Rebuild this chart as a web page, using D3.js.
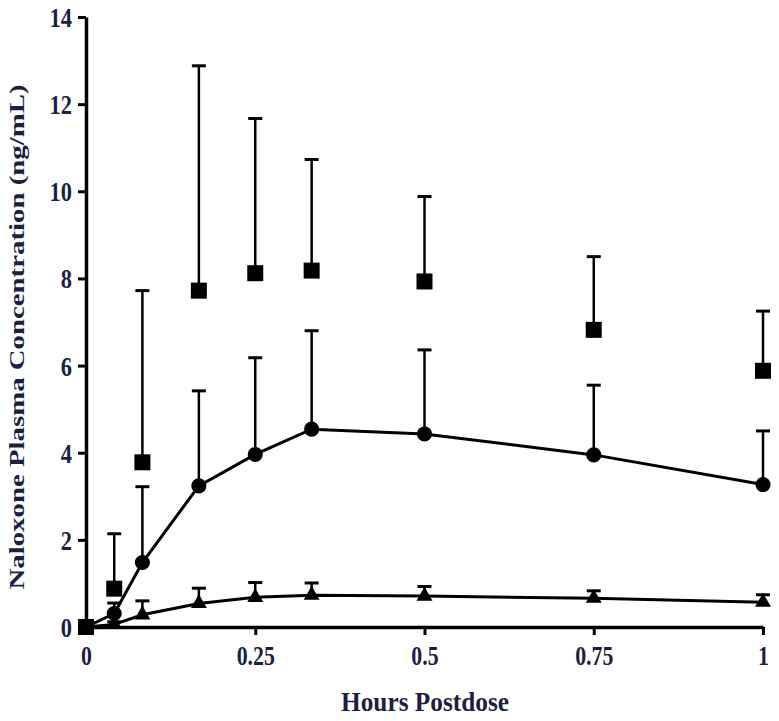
<!DOCTYPE html>
<html>
<head>
<meta charset="utf-8">
<script src="https://cdn.jsdelivr.net/npm/d3@7"></script>
<style>
  html, body { margin: 0; padding: 0; background: #fff; }
  svg { display: block; }
  text { font-family: "Liberation Serif", "Times New Roman", serif; font-weight: bold; fill: #1c1f42; }
</style>
</head>
<body>
<svg id="chart" width="779" height="721"></svg>
<script>
// Sampling times (hours postdose)
const hours = [0, 0.0417, 0.0833, 0.1667, 0.25, 0.3333, 0.5, 0.75, 1];

// Mean naloxone plasma concentrations (ng/mL) and mean + SD for each dose group
const squareMean = [0, 0.88, 3.78, 7.72, 8.12, 8.18, 7.93, 6.82, 5.88];
const squareUpper = [0, 2.14, 7.72, 12.88, 11.67, 10.73, 9.88, 8.5, 7.25];

const circleMean = [0, 0.31, 1.48, 3.24, 3.96, 4.54, 4.43, 3.95, 3.27];
const circleUpper = [0, 0.55, 3.22, 5.42, 6.18, 6.8, 6.36, 5.55, 4.5];

const triangleMean = [0, 0.06, 0.28, 0.54, 0.68, 0.73, 0.71, 0.66, 0.57];
const triangleUpper = [0, 0.12, 0.6, 0.89, 1.02, 1.01, 0.93, 0.83, 0.74];

const xTicks = [0, 0.25, 0.5, 0.75, 1];
const xTickLabels = ["0", "0.25", "0.5", "0.75", "1"];
const yTicks = [0, 2, 4, 6, 8, 10, 12, 14];

const svg = d3.select("#chart");
const x = d3.scaleLinear().domain([0, 1]).range([86, 763]);
const y = d3.scaleLinear().domain([0, 14]).range([627, 17]);

// Squeeze text horizontally along its baseline
function squeeze(sel, factor) {
  sel.each(function () {
    const len = this.getComputedTextLength();
    d3.select(this).attr("textLength", len * factor).attr("lengthAdjust", "spacingAndGlyphs");
  });
}

// Axes
const yAxis = svg.append("g")
  .attr("transform", `translate(${x(0)},0)`)
  .call(d3.axisLeft(y).tickValues(yTicks).tickSize(8).tickSizeOuter(0).tickPadding(6).tickFormat(d3.format("d")));
const xAxis = svg.append("g")
  .attr("transform", `translate(0,${y(0)})`)
  .call(d3.axisBottom(x).tickValues(xTicks).tickSize(8).tickSizeOuter(0).tickPadding(11)
    .tickFormat((d, i) => xTickLabels[i]));

[yAxis, xAxis].forEach(g => {
  g.attr("font-size", null).attr("font-family", null);
  g.select(".domain").attr("stroke", "#000").attr("stroke-width", 3.5);
  g.selectAll(".tick line").attr("stroke", "#000").attr("stroke-width", 3);
  g.selectAll(".tick text")
    .attr("font-family", '"Liberation Serif", serif')
    .attr("font-weight", "bold")
    .attr("font-size", 28)
    .attr("fill", "#1c1f42");
});
yAxis.selectAll(".tick text").attr("dy", "0.34em").call(squeeze, 0.8);
xAxis.selectAll(".tick text").attr("dy", "0.68em").call(squeeze, 0.78);

// Axis titles
svg.append("text")
  .attr("x", 425).attr("y", 711)
  .attr("text-anchor", "middle")
  .attr("font-size", 28)
  .text("Hours Postdose")
  .attr("textLength", 168).attr("lengthAdjust", "spacingAndGlyphs");

svg.append("text")
  .attr("transform", "translate(24,337) rotate(-90)")
  .attr("text-anchor", "middle")
  .attr("font-size", 20)
  .text("Naloxone Plasma Concentration (ng/mL)")
  .attr("textLength", 505).attr("lengthAdjust", "spacingAndGlyphs");

const series = [
  { mean: squareMean, upper: squareUpper, shape: "square", line: false },
  { mean: circleMean, upper: circleUpper, shape: "circle", line: true },
  { mean: triangleMean, upper: triangleUpper, shape: "triangle", line: true }
];

const lineGen = d3.line()
  .x((d, i) => x(hours[i]))
  .y(d => y(d));

// Connecting lines
series.filter(s => s.line).forEach(s => {
  svg.append("path")
    .attr("d", lineGen(s.mean))
    .attr("fill", "none")
    .attr("stroke", "#000")
    .attr("stroke-width", 3);
});

// Upper error bars (mean + SD)
series.forEach(s => {
  const g = svg.append("g").attr("stroke", "#000");
  hours.forEach((h, i) => {
    if (s.upper[i] <= s.mean[i]) return;
    g.append("line")
      .attr("x1", x(h)).attr("x2", x(h))
      .attr("y1", y(s.mean[i])).attr("y2", y(s.upper[i]))
      .attr("stroke-width", 2.5);
    g.append("line")
      .attr("x1", x(h) - 7).attr("x2", x(h) + 7)
      .attr("y1", y(s.upper[i])).attr("y2", y(s.upper[i]))
      .attr("stroke-width", 3);
  });
});

// Markers
const symbols = {
  square: d3.symbol().type(d3.symbolSquare).size(256),
  circle: d3.symbol().type(d3.symbolCircle).size(180),
  triangle: d3.symbol().type(d3.symbolTriangle).size(110)
};
[series[2], series[1], series[0]].forEach(s => {
  svg.append("g").selectAll("path")
    .data(s.mean)
    .join("path")
    .attr("transform", (d, i) => `translate(${x(hours[i])},${y(d)})`)
    .attr("d", symbols[s.shape]())
    .attr("fill", "#000");
});
</script>
</body>
</html>
